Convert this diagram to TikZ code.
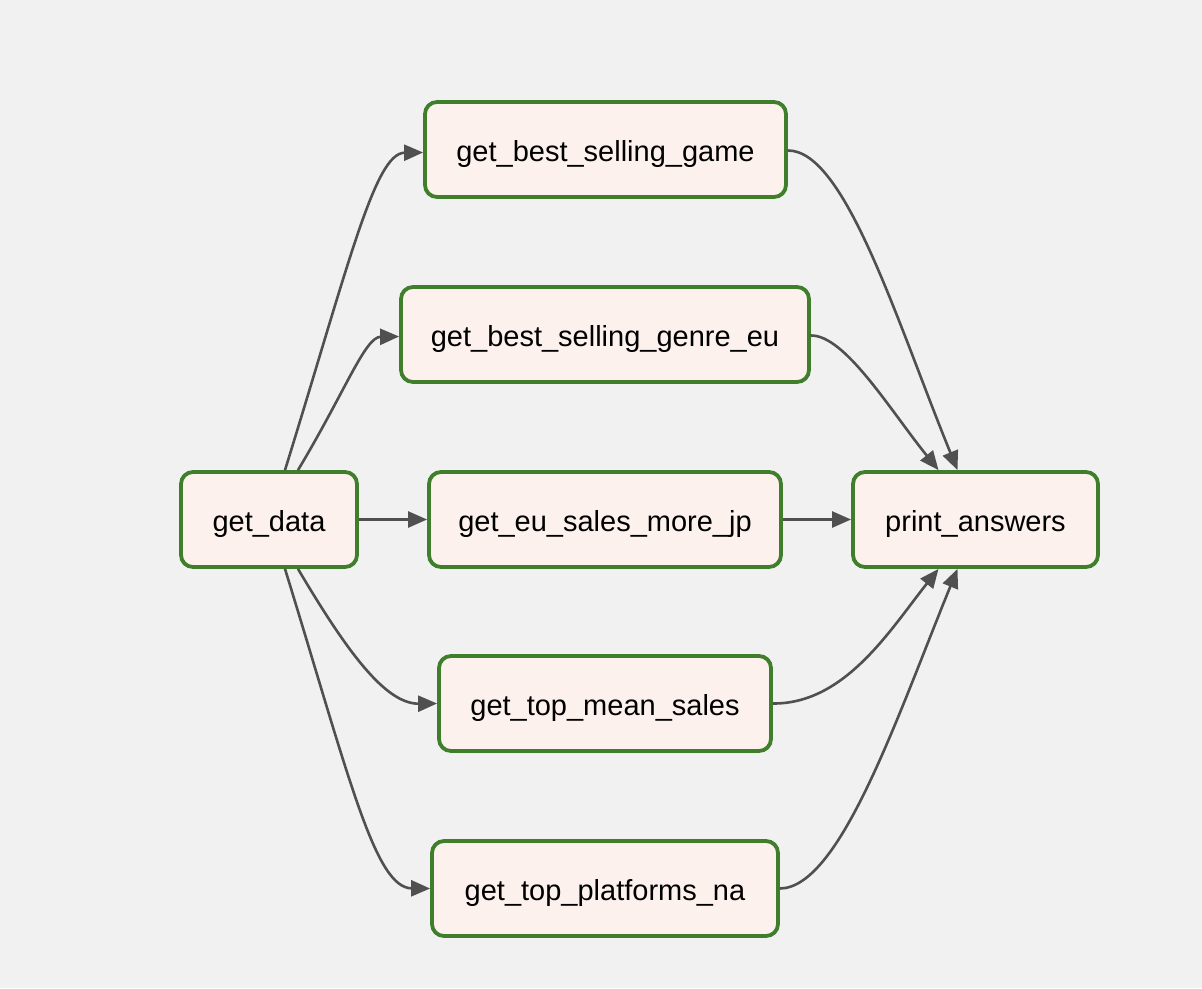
\documentclass[tikz,border=0pt]{standalone}
\usepackage{fontspec}
\setmainfont{Liberation Sans}
\usetikzlibrary{arrows.meta,calc}
\definecolor{bgc}{HTML}{F1F1F1}
\definecolor{nodefill}{HTML}{FCF1EC}
\definecolor{nodeedge}{HTML}{3F7E2B}
\definecolor{edgec}{HTML}{505050}
\begin{document}
\begin{tikzpicture}[x=1pt,y=-1pt,
  task/.style={draw=nodeedge,fill=nodefill,line width=3.8pt,rounded corners=12pt,
    minimum height=95pt,inner sep=0pt,text height=24pt,text depth=0pt,
    font=\fontsize{29}{34}\selectfont,text=black},
  link/.style={draw=edgec,line width=2.6pt,-{Triangle[length=19pt,width=16pt]}}]
\fill[bgc] (0,0) rectangle (1202,988);
\useasboundingbox (0,0) rectangle (1202,988);
\node[task,minimum width=176pt] (gd) at (269,519.5) {get\_data};
\node[task,minimum width=361pt] (bsg) at (605.5,149.5) {get\_best\_selling\_game};
\node[task,minimum width=408pt] (bge) at (605,334.5) {get\_best\_selling\_genre\_eu};
\node[task,minimum width=352pt] (eus) at (605,519.5) {get\_eu\_sales\_more\_jp};
\node[task,minimum width=332pt] (tms) at (605,703.5) {get\_top\_mean\_sales};
\node[task,minimum width=346pt] (tpn) at (605,888.5) {get\_top\_platforms\_na};
\node[task,minimum width=245pt] (pa) at (975.5,519.5) {print\_answers};
% left fan
\draw[link] ([xshift=16pt]gd.north) .. controls (350,260) and (375,153) .. ([yshift=-3pt]bsg.west);
\draw[link] ([xshift=29pt]gd.north) .. controls (346,390) and (365,337) .. ([yshift=-2pt]bge.west);
\draw[link] (gd.east) -- (eus.west);
\draw[link] ([xshift=29pt]gd.south) .. controls (346,650) and (385,704) .. (tms.west);
\draw[link] ([xshift=16pt]gd.south) .. controls (350,780) and (375,888) .. (tpn.west);
% right fan
\draw[link] ([yshift=-1pt]bsg.east) .. controls (845,150) and (897,322) .. ([xshift=-18pt]pa.north);
\draw[link] ([yshift=-1pt]bge.east) .. controls (845,335) and (890,410) .. ([xshift=-37pt]pa.north);
\draw[link] (eus.east) -- (pa.west);
\draw[link] (tms.east) .. controls (845,704) and (890,630) .. ([xshift=-37pt]pa.south);
\draw[link] (tpn.east) .. controls (840,888) and (897,717) .. ([xshift=-18pt]pa.south);
\end{tikzpicture}
\end{document}
